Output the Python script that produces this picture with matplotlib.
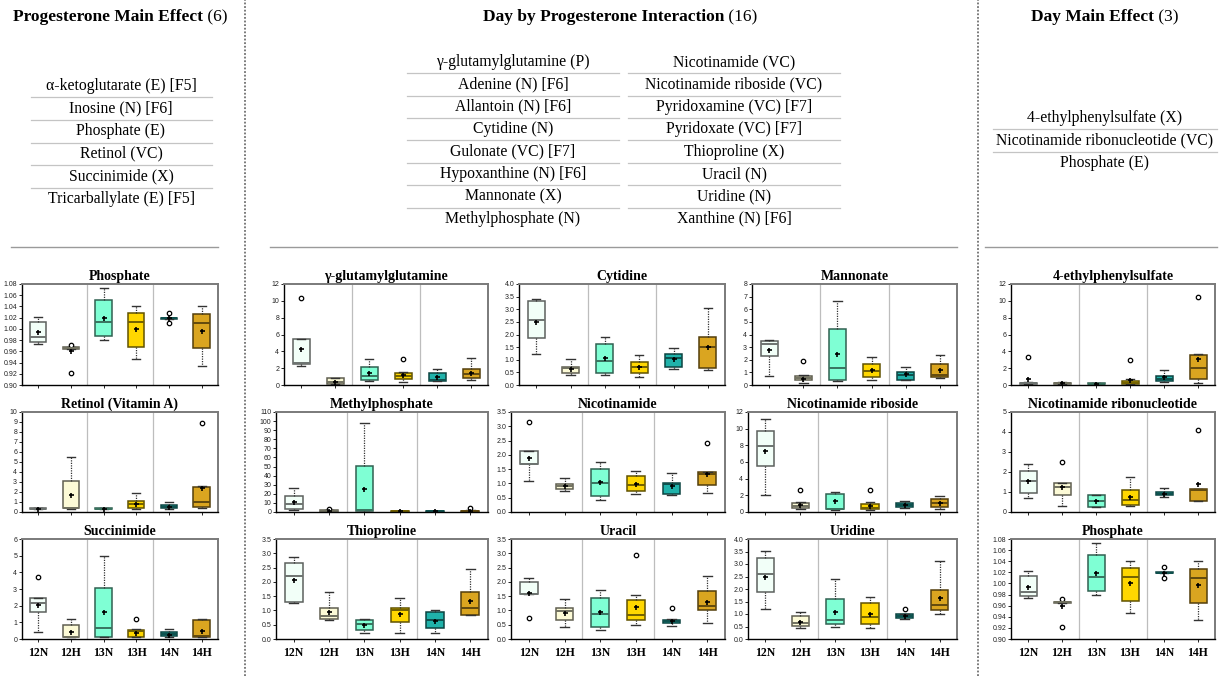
import matplotlib
matplotlib.use("Agg")
import matplotlib.pyplot as plt
import matplotlib.colors as mcolors
from matplotlib.lines import Line2D

W, H = 1227, 676

# ---------------- data ----------------
groups = ["12N", "12H", "13N", "13H", "14N", "14H"]
group_colors = ["#F2FFF8", "#FCFAD6", "#7FFFD4", "#FFD700", "#20B2AA", "#DAA520"]

header_left = ("Progesterone Main Effect", "(6)")
header_mid = ("Day by Progesterone Interaction", "(16)")
header_right = ("Day Main Effect", "(3)")

table_left = ["\u03b1-ketoglutarate (E) [F5]", "Inosine (N) [F6]", "Phosphate (E)",
              "Retinol (VC)", "Succinimide (X)", "Tricarballylate (E) [F5]"]
table_mid_a = ["\u03b3-glutamylglutamine (P)", "Adenine (N) [F6]", "Allantoin (N) [F6]",
               "Cytidine (N)", "Gulonate (VC) [F7]", "Hypoxanthine (N) [F6]",
               "Mannonate (X)", "Methylphosphate (N)"]
table_mid_b = ["Nicotinamide (VC)", "Nicotinamide riboside (VC)", "Pyridoxamine (VC) [F7]",
               "Pyridoxate (VC) [F7]", "Thioproline (X)", "Uracil (N)", "Uridine (N)",
               "Xanthine (N) [F6]"]
table_right = ["4-ethylphenylsulfate (X)", "Nicotinamide ribonucleotide (VC)", "Phosphate (E)"]

phosphate = dict(
    lo=[0.973, 0.965, 0.980, 0.9465, 1.018, 0.9346],
    q1=[0.9775, 0.965, 0.987, 0.9685, 1.018, 0.9656],
    med=[0.985, 0.966, 1.012, 1.0115, 1.019, 1.0103],
    q3=[1.013, 0.967, 1.0514, 1.028, 1.020, 1.0264],
    hi=[1.022, 0.967, 1.072, 1.040, 1.020, 1.040],
    mean=[0.9936, 0.960, 1.019, 1.000, 1.019, 0.997],
    out=[[], [0.972, 0.922], [], [], [1.029, 1.010], []])

retinol = dict(
    lo=[0.30, 0.35, 0.30, 0.35, 0.30, 0.40],
    q1=[0.30, 0.40, 0.30, 0.40, 0.37, 0.47],
    med=[0.35, 0.45, 0.35, 0.80, 0.55, 1.00],
    q3=[0.40, 3.13, 0.40, 1.13, 0.70, 2.53],
    hi=[0.42, 5.47, 0.42, 1.87, 0.97, 2.60],
    mean=[0.35, 1.70, 0.35, 0.80, 0.55, 2.37],
    out=[[], [], [], [], [], [8.87]])

succinimide = dict(
    lo=[0.42, 0.10, 0.10, 0.10, 0.12, 0.10],
    q1=[1.60, 0.10, 0.14, 0.12, 0.18, 0.10],
    med=[2.16, 0.14, 0.66, 0.50, 0.30, 0.20],
    q3=[2.44, 0.84, 3.06, 0.54, 0.42, 1.14],
    hi=[2.46, 1.20, 4.96, 0.62, 0.60, 1.20],
    mean=[2.06, 0.42, 1.60, 0.36, 0.26, 0.48],
    out=[[3.72], [], [], [1.20], [], []])

glutamylglutamine = dict(
    lo=[2.22, 0.10, 0.48, 0.32, 0.44, 0.60],
    q1=[2.46, 0.12, 0.56, 0.68, 0.52, 0.79],
    med=[2.58, 0.30, 1.03, 1.03, 0.55, 1.27],
    q3=[5.48, 0.80, 2.19, 1.39, 1.47, 1.87],
    hi=[5.50, 0.80, 3.06, 1.50, 1.87, 3.22],
    mean=[4.29, 0.36, 1.39, 1.15, 0.95, 1.47],
    out=[[10.33], [], [], [3.06], [], []])

cytidine = dict(
    lo=[1.22, 0.41, 0.41, 0.33, 0.64, 0.59],
    q1=[1.85, 0.47, 0.47, 0.47, 0.72, 0.68],
    med=[2.58, 0.66, 0.97, 0.72, 1.08, 1.50],
    q3=[3.34, 0.71, 1.61, 0.93, 1.22, 1.89],
    hi=[3.41, 1.01, 1.89, 1.18, 1.47, 3.03],
    mean=[2.50, 0.62, 1.05, 0.73, 1.04, 1.52],
    out=[[], [], [], [], [], []])

mannonate = dict(
    lo=[0.68, 0.18, 0.32, 0.37, 0.37, 0.55],
    q1=[2.26, 0.37, 0.39, 0.63, 0.42, 0.60],
    med=[3.26, 0.55, 1.34, 1.10, 0.76, 0.82],
    q3=[3.50, 0.68, 4.42, 1.66, 1.03, 1.66],
    hi=[3.55, 0.76, 6.68, 2.24, 1.39, 2.39],
    mean=[2.76, 0.50, 2.42, 1.16, 0.87, 1.21],
    out=[[], [1.92], [], [], [], []])

methylphosphate = dict(
    lo=[2.2, 0.3, 0.3, 0.2, 0.2, 0.3],
    q1=[3.7, 0.5, 0.7, 0.4, 0.4, 0.5],
    med=[8.8, 1.0, 1.8, 0.7, 0.8, 1.0],
    q3=[17.2, 1.8, 50.2, 1.0, 1.1, 1.5],
    hi=[26.0, 2.5, 97.9, 1.2, 1.3, 1.8],
    mean=[11.0, 1.0, 25.3, 0.7, 0.8, 1.0],
    out=[[], [3.2], [], [], [], [4.4]])

nicotinamide = dict(
    lo=[1.09, 0.72, 0.43, 0.62, 0.60, 0.67],
    q1=[1.67, 0.80, 0.57, 0.74, 0.64, 0.95],
    med=[1.67, 0.91, 1.02, 0.93, 0.97, 1.32],
    q3=[2.12, 0.98, 1.50, 1.26, 1.00, 1.40],
    hi=[2.13, 1.18, 1.75, 1.42, 1.37, 1.40],
    mean=[1.90, 0.90, 1.04, 0.98, 0.91, 1.34],
    out=[[3.15], [], [], [], [], [2.43]])

nicotinamide_riboside = dict(
    lo=[2.06, 0.40, 0.24, 0.28, 0.44, 0.32],
    q1=[5.47, 0.51, 0.36, 0.40, 0.59, 0.55],
    med=[7.92, 0.75, 0.40, 0.48, 0.79, 1.03],
    q3=[9.70, 1.03, 2.14, 0.91, 1.03, 1.54],
    hi=[11.13, 1.15, 2.38, 1.19, 1.27, 1.90],
    mean=[7.37, 0.80, 1.27, 0.75, 0.80, 1.10],
    out=[[], [2.65], [], [2.69], [], []])

thioproline = dict(
    lo=[1.26, 0.66, 0.22, 0.22, 0.22, 0.83],
    q1=[1.31, 0.71, 0.31, 0.59, 0.38, 0.83],
    med=[2.21, 0.80, 0.53, 1.01, 0.66, 1.10],
    q3=[2.65, 1.10, 0.65, 1.07, 0.94, 1.66],
    hi=[2.87, 1.63, 0.69, 1.43, 1.00, 2.44],
    mean=[2.08, 0.95, 0.50, 0.87, 0.64, 1.33],
    out=[[], [], [], [], [], []])

uracil = dict(
    lo=[1.57, 0.41, 0.33, 0.50, 0.45, 0.56],
    q1=[1.57, 0.65, 0.42, 0.66, 0.57, 1.00],
    med=[1.59, 0.97, 0.86, 0.84, 0.62, 1.14],
    q3=[1.98, 1.08, 1.44, 1.36, 0.66, 1.69],
    hi=[2.13, 1.40, 1.70, 1.53, 0.71, 2.22],
    mean=[1.60, 0.92, 0.93, 1.13, 0.62, 1.29],
    out=[[0.73], [], [], [2.93], [1.07], []])

uridine = dict(
    lo=[1.21, 0.43, 0.49, 0.44, 0.80, 1.00],
    q1=[1.87, 0.53, 0.60, 0.60, 0.86, 1.18],
    med=[2.59, 0.64, 0.77, 0.89, 0.93, 1.36],
    q3=[3.23, 0.94, 1.61, 1.45, 1.00, 1.97],
    hi=[3.52, 1.08, 2.39, 1.70, 1.02, 3.14],
    mean=[2.48, 0.69, 1.10, 1.00, 0.93, 1.66],
    out=[[], [], [], [], [1.21], []])

ethylphenylsulfate = dict(
    lo=[0.10, 0.10, 0.10, 0.10, 0.32, 0.20],
    q1=[0.12, 0.12, 0.12, 0.12, 0.44, 0.75],
    med=[0.18, 0.18, 0.16, 0.28, 0.72, 1.99],
    q3=[0.25, 0.25, 0.22, 0.44, 1.03, 3.62],
    hi=[0.30, 0.30, 0.25, 0.72, 1.83, 3.64],
    mean=[0.72, 0.28, 0.17, 0.60, 0.95, 3.14],
    out=[[3.34], [], [], [2.98], [], [10.40]])

nicotinamide_ribonucleotide = dict(
    lo=[0.71, 0.28, 0.25, 0.28, 0.73, 0.53],
    q1=[0.95, 0.85, 0.25, 0.37, 0.83, 0.53],
    med=[1.56, 1.25, 0.56, 0.61, 0.91, 1.11],
    q3=[2.06, 1.43, 0.85, 1.11, 1.01, 1.15],
    hi=[2.39, 1.43, 0.85, 1.74, 1.18, 1.15],
    mean=[1.53, 1.26, 0.55, 0.76, 0.91, 1.40],
    out=[[], [2.49], [], [], [], [4.10]])

# ---------------- styling ----------------
SERIF = "Liberation Serif"
SANS = "Liberation Sans"
plt.rcParams["font.family"] = [SANS, "DejaVu Sans"]

fig = plt.figure(figsize=(W / 100, H / 100), dpi=100)
fig.patch.set_facecolor("white")


def fx(x):
    return x / W


def fy(y):
    return 1 - y / H


def rect(x0, x1, y0, y1):
    return [x0 / W, 1 - y1 / H, (x1 - x0) / W, (y1 - y0) / H]


def darken(c, f):
    r, g, b = mcolors.to_rgb(c)
    return (r * f, g * f, b * f)


def panel(box, title, st, ylim, yticks, fmt, xlabels=False):
    ax = fig.add_axes(rect(*box))
    stats = []
    for i in range(len(groups)):
        stats.append(dict(whislo=st["lo"][i], q1=st["q1"][i], med=st["med"][i],
                          q3=st["q3"][i], whishi=st["hi"][i], mean=st["mean"][i],
                          fliers=st["out"][i], label=groups[i]))
    bp = ax.bxp(stats, positions=list(range(1, 7)), widths=0.5, patch_artist=True,
                showmeans=True, manage_ticks=False,
                whiskerprops=dict(color="#333333", linewidth=0.9, linestyle=(0, (1, 1))),
                capprops=dict(color="#333333", linewidth=1.0),
                flierprops=dict(marker="o", markerfacecolor="white", markeredgecolor="black",
                                markersize=3.2, markeredgewidth=0.9),
                meanprops=dict(marker="+", markeredgecolor="black", markersize=3.6,
                               markeredgewidth=1.2),
                medianprops=dict(linewidth=1.4))
    for i, b in enumerate(bp["boxes"]):
        b.set_facecolor(group_colors[i])
        b.set_edgecolor(darken(group_colors[i], 0.38))
        b.set_linewidth(1.1)
        bp["medians"][i].set_color(darken(group_colors[i], 0.45))
    for xs in (2.5, 4.5):
        ax.axvline(xs, color="#BDBDBD", linewidth=0.9, zorder=0)
    ax.set_xlim(0.5, 6.5)
    ax.set_ylim(*ylim)
    ax.set_yticks(yticks)
    ax.set_yticklabels([fmt.format(v) for v in yticks], fontsize=5.0, family=SANS,
                       color="#222222")
    ax.set_xticks(list(range(1, 7)))
    if xlabels:
        ax.set_xticklabels(groups, fontsize=8.5, family=SERIF, fontweight="bold")
    else:
        ax.set_xticklabels([])
    ax.tick_params(axis="y", length=2, width=0.6, pad=1.5)
    ax.tick_params(axis="x", length=2.5, width=0.6, pad=3)
    for s in ("left", "bottom"):
        ax.spines[s].set_color("black")
        ax.spines[s].set_linewidth(1.0)
    for s in ("top", "right"):
        ax.spines[s].set_color("#7A7A7A")
        ax.spines[s].set_linewidth(1.4)
    ax.set_title(title, fontsize=10, family=SERIF, fontweight="bold", pad=3)
    return ax


def ticks(a, b, step):
    n = int(round((b - a) / step))
    return [a + k * step for k in range(n + 1)]


# rows
R1 = (284, 385)
R2 = (412, 512)
R3 = (539, 639)
CL = (22, 218)
CM1 = (284, 488)
CM2 = (519, 725)
CM3 = (752, 957)
CR = (1011, 1215)

panel((*CL, *R1), "Phosphate", phosphate, (0.90, 1.08), ticks(0.90, 1.08, 0.02), "{:.2f}")
panel((*CL, *R2), "Retinol (Vitamin A)", retinol, (0, 10), ticks(0, 10, 1), "{:.0f}")
panel((*CL, *R3), "Succinimide", succinimide, (0, 6), ticks(0, 6, 1), "{:.0f}", True)

panel((*CM1, *R1), "\u03b3-glutamylglutamine", glutamylglutamine, (0, 12), ticks(0, 12, 2), "{:.0f}")
panel((*CM2, *R1), "Cytidine", cytidine, (0, 4), ticks(0, 4, 0.5), "{:.1f}")
panel((*CM3, *R1), "Mannonate", mannonate, (0, 8), ticks(0, 8, 1), "{:.0f}")

panel((276, 488, *R2), "Methylphosphate", methylphosphate, (0, 110), ticks(0, 110, 10), "{:.0f}")
panel((511, 725, *R2), "Nicotinamide", nicotinamide, (0, 3.5), ticks(0, 3.5, 0.5), "{:.1f}")
panel((748, 957, *R2), "Nicotinamide riboside", nicotinamide_riboside, (0, 12), ticks(0, 12, 2), "{:.0f}")

panel((276, 488, *R3), "Thioproline", thioproline, (0, 3.5), ticks(0, 3.5, 0.5), "{:.1f}", True)
panel((511, 725, *R3), "Uracil", uracil, (0, 3.5), ticks(0, 3.5, 0.5), "{:.1f}", True)
panel((748, 957, *R3), "Uridine", uridine, (0, 4), ticks(0, 4, 0.5), "{:.1f}", True)

panel((*CR, *R1), "4-ethylphenylsulfate", ethylphenylsulfate, (0, 12), ticks(0, 12, 2), "{:.0f}")
panel((*CR, *R2), "Nicotinamide ribonucleotide", nicotinamide_ribonucleotide, (0, 5), ticks(0, 5, 1), "{:.0f}")
panel((*CR, *R3), "Phosphate", phosphate, (0.90, 1.08), ticks(0.90, 1.08, 0.02), "{:.2f}", True)

# ---------------- headers ----------------
fig.canvas.draw()
renderer = fig.canvas.get_renderer()


def header(center, y, parts, size=12.5):
    t1 = fig.text(0, fy(y), parts[0], fontsize=size, family=SERIF, fontweight="bold",
                  ha="left", va="center")
    t2 = fig.text(0, fy(y), " " + parts[1], fontsize=size, family=SERIF,
                  ha="left", va="center")
    w1 = t1.get_window_extent(renderer).width
    w2 = t2.get_window_extent(renderer).width
    start = center - (w1 + w2) / 2
    t1.set_x(fx(start))
    t2.set_x(fx(start + w1))


header(120, 17, header_left)
header(620, 17, header_mid)
header(1105, 17, header_right)


def table(items, cx, x0, x1, y_first, step):
    for k, s in enumerate(items):
        y = y_first + k * step
        fig.text(fx(cx), fy(y), s, fontsize=11.3, family=SERIF, ha="center", va="center")
        if k < len(items) - 1:
            yl = y + step / 2
            fig.add_artist(Line2D([fx(x0), fx(x1)], [fy(yl), fy(yl)], color="#C4C4C4",
                                  linewidth=0.9, transform=fig.transFigure))


table(table_left, 121, 31, 212, 86, 22.6)
table(table_mid_a, 513, 407, 619, 62, 22.4)
table(table_mid_b, 734, 628, 840, 62, 22.4)
table(table_right, 1105, 993, 1217, 118, 22.6)

# horizontal rules under the tables
for xa, xb in ((11, 218), (270, 957), (985, 1217)):
    fig.add_artist(Line2D([fx(xa), fx(xb)], [fy(247), fy(247)], color="#9A9A9A",
                          linewidth=1.0, transform=fig.transFigure))

# vertical dotted separators
for xv in (245, 978):
    fig.add_artist(Line2D([fx(xv), fx(xv)], [0, 1], color="#707070", linewidth=1.3,
                          linestyle=(0, (1, 1)), transform=fig.transFigure))

fig.savefig("out.png", dpi=100, facecolor="white")
